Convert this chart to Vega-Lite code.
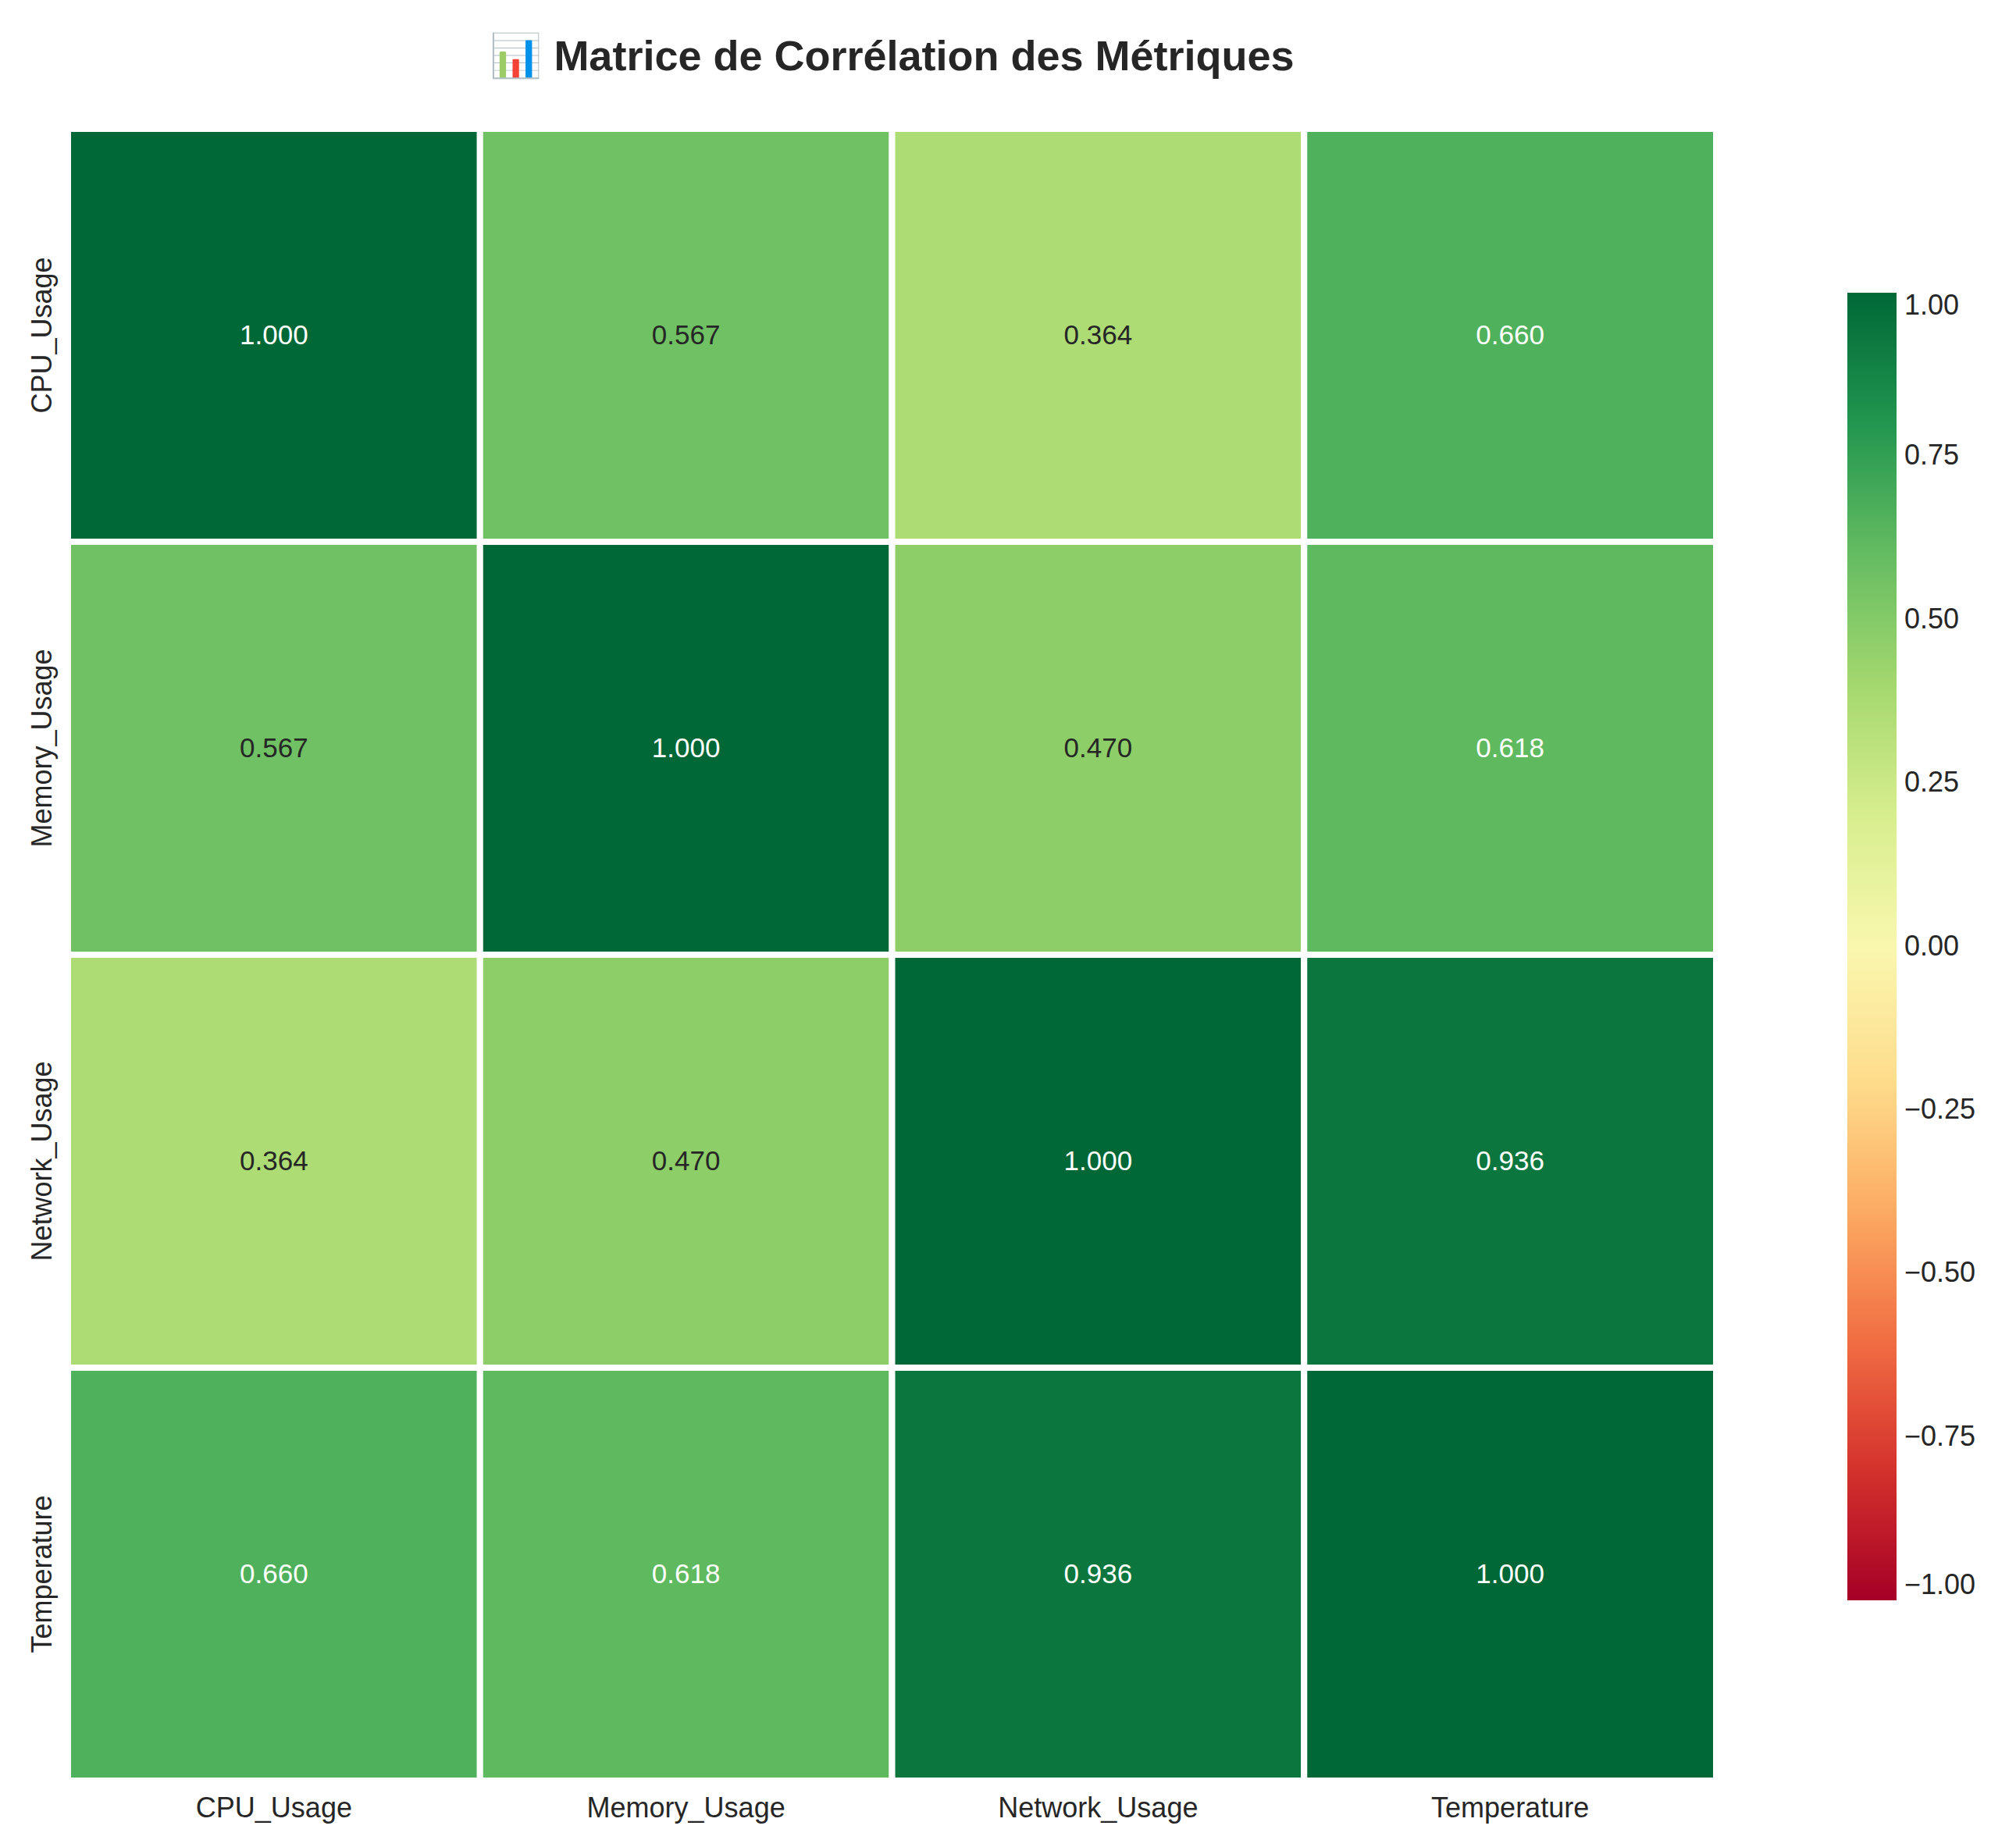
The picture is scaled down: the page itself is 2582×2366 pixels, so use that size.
{
  "$schema": "https://vega.github.io/schema/vega-lite/v6.json",
  "autosize": "none",
  "padding": {"left": 87, "top": 165, "right": 384, "bottom": 85},
  "width": 2111,
  "height": 2116,
  "background": "white",
  "config": {"view": {"stroke": null}, "font": "Liberation Sans"},
  "title": {"text": "📊 Matrice de Corrélation des Métriques", "fontSize": 54, "fontWeight": "bold", "color": "#262626", "anchor": "middle", "offset": 60},
  "data": {"values": [
    {"row": "CPU_Usage", "col": "CPU_Usage", "r": 1.0},
    {"row": "CPU_Usage", "col": "Memory_Usage", "r": 0.567},
    {"row": "CPU_Usage", "col": "Network_Usage", "r": 0.364},
    {"row": "CPU_Usage", "col": "Temperature", "r": 0.66},
    {"row": "Memory_Usage", "col": "CPU_Usage", "r": 0.567},
    {"row": "Memory_Usage", "col": "Memory_Usage", "r": 1.0},
    {"row": "Memory_Usage", "col": "Network_Usage", "r": 0.47},
    {"row": "Memory_Usage", "col": "Temperature", "r": 0.618},
    {"row": "Network_Usage", "col": "CPU_Usage", "r": 0.364},
    {"row": "Network_Usage", "col": "Memory_Usage", "r": 0.47},
    {"row": "Network_Usage", "col": "Network_Usage", "r": 1.0},
    {"row": "Network_Usage", "col": "Temperature", "r": 0.936},
    {"row": "Temperature", "col": "CPU_Usage", "r": 0.66},
    {"row": "Temperature", "col": "Memory_Usage", "r": 0.618},
    {"row": "Temperature", "col": "Network_Usage", "r": 0.936},
    {"row": "Temperature", "col": "Temperature", "r": 1.0}
  ]},
  "encoding": {
    "x": {"field": "col", "type": "nominal", "sort": null, "title": null,
      "axis": {"labelAngle": 0, "labelFontSize": 36, "labelColor": "#262626", "domain": false, "ticks": false, "labelPadding": 18, "labelLimit": 600}},
    "y": {"field": "row", "type": "nominal", "sort": null, "title": null,
      "axis": {"labelAngle": 270, "labelAlign": "center", "labelBaseline": "bottom", "labelFontSize": 36, "labelColor": "#262626", "domain": false, "ticks": false, "labelPadding": 14, "labelLimit": 600}}
  },
  "layer": [
    {
      "mark": {"type": "rect", "stroke": "white", "strokeWidth": 8},
      "encoding": {
        "color": {"field": "r", "type": "quantitative",
          "scale": {"scheme": "redyellowgreen", "domain": [-1, 1]},
          "legend": {"title": null, "orient": "none", "legendX": 2279, "legendY": 210,
            "gradientLength": 1675, "gradientThickness": 63, "values": [-1, -0.75, -0.5, -0.25, 0, 0.25, 0.5, 0.75, 1],
            "format": ".2f", "labelFontSize": 36, "labelColor": "#262626", "labelOffset": 10, "labelLimit": 300}}
      }
    },
    {
      "mark": {"type": "text", "fontSize": 35},
      "encoding": {
        "text": {"field": "r", "type": "quantitative", "format": ".3f"},
        "color": {"condition": {"test": "datum.r > 0.6", "value": "white"}, "value": "#262626"}
      }
    }
  ]
}
